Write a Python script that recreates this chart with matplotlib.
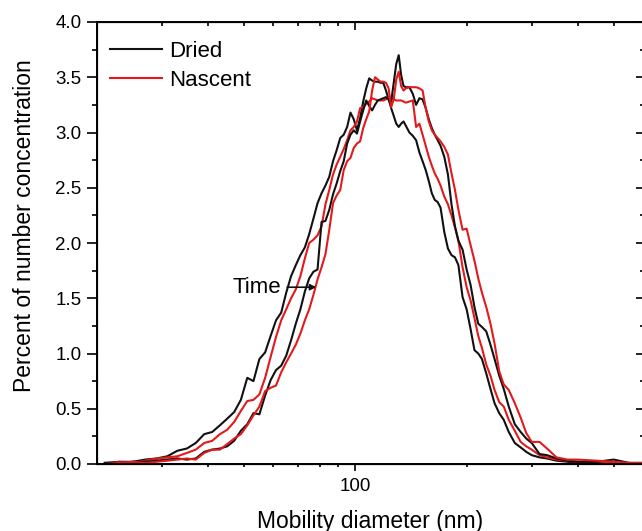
import matplotlib
matplotlib.use('Agg')
import matplotlib.pyplot as plt
from matplotlib.ticker import FixedLocator, NullFormatter

plt.rcParams['font.family'] = ['Liberation Sans', 'DejaVu Sans']

# SMPS size channels (nm)
diameter_nm = [21, 23, 25, 27, 29, 31, 33, 35, 37, 39, 41, 43, 45, 47, 49, 51, 53, 55, 57, 59,
               61, 63, 65, 67, 69, 71, 73, 75, 77, 79, 81, 83, 85, 87, 89, 91, 93, 95, 97, 99,
               101, 103, 105, 107, 109, 111, 113, 115, 117, 119, 121, 123, 125, 127, 129, 131,
               133, 135, 137, 140, 143, 146, 149, 152, 155, 158, 161, 164, 167, 170, 174, 178,
               182, 186, 190, 195, 200, 205, 210, 215, 220, 226, 232, 238, 245, 252, 260, 270,
               280, 290, 300, 315, 330, 350, 375, 400, 450, 500, 550, 600]

# percent of number concentration, dried particles (two scans)
dried_1 = [0.01, 0.02, 0.02, 0.04, 0.05, 0.07, 0.12, 0.14, 0.19, 0.27, 0.29, 0.35, 0.41, 0.47, 0.58, 0.78, 0.75, 0.95, 1.01, 1.16,
           1.30, 1.37, 1.55, 1.70, 1.80, 1.89, 1.96, 2.08, 2.22, 2.36, 2.45, 2.52, 2.60, 2.74, 2.84, 2.95, 2.98, 3.05, 3.18, 3.12,
           3.02, 3.13, 3.28, 3.40, 3.49, 3.47, 3.46, 3.46, 3.45, 3.45, 3.38, 3.30, 3.22, 3.15, 3.08, 3.05,
           3.08, 3.10, 3.06, 3.00, 2.97, 2.93, 2.82, 2.74, 2.66, 2.56, 2.45, 2.39, 2.37, 2.32, 2.10, 1.95,
           1.89, 1.87, 1.80, 1.51, 1.40, 1.22, 1.03, 1.00, 0.95, 0.82, 0.68, 0.55, 0.46, 0.40, 0.29, 0.19,
           0.15, 0.11, 0.08, 0.06, 0.05, 0.03, 0.02, 0.01, 0.01, 0.01, 0.00, 0.00]
dried_2 = [0.01, 0.01, 0.02, 0.02, 0.03, 0.04, 0.05, 0.04, 0.05, 0.11, 0.13, 0.14, 0.16, 0.21, 0.30, 0.36, 0.46, 0.45, 0.62, 0.76,
           0.85, 0.89, 0.98, 1.12, 1.27, 1.40, 1.56, 1.68, 1.74, 1.76, 2.19, 2.20, 2.30, 2.44, 2.54, 2.65, 2.74, 2.90, 2.98, 3.02,
           2.99, 3.10, 3.20, 3.29, 3.24, 3.20, 3.25, 3.29, 3.30, 3.31, 3.32, 3.30, 3.28, 3.45, 3.62, 3.70,
           3.52, 3.42, 3.41, 3.41, 3.35, 3.25, 3.31, 3.30, 3.22, 3.12, 3.04, 2.98, 2.93, 2.88, 2.78, 2.62,
           2.35, 2.15, 2.02, 1.94, 1.76, 1.62, 1.42, 1.27, 1.24, 1.20, 1.08, 0.95, 0.80, 0.68, 0.52, 0.36,
           0.29, 0.23, 0.19, 0.09, 0.08, 0.05, 0.03, 0.02, 0.02, 0.04, 0.01, 0.01]

# nascent particles (two scans)
nascent_1 = [0.00, 0.02, 0.01, 0.03, 0.05, 0.06, 0.07, 0.10, 0.13, 0.19, 0.21, 0.27, 0.31, 0.38, 0.48, 0.57, 0.58, 0.63, 0.78, 0.97,
             1.15, 1.30, 1.40, 1.50, 1.58, 1.70, 1.86, 2.00, 2.03, 2.07, 2.15, 2.35, 2.48, 2.62, 2.71, 2.78, 2.85, 2.93, 3.02, 3.05,
             3.10, 3.22, 3.23, 3.26, 3.28, 3.31, 3.30, 3.29, 3.29, 3.29, 3.30, 3.32, 3.31, 3.30, 3.29, 3.29,
             3.29, 3.28, 3.27, 3.28, 3.29, 3.05, 3.08, 2.98, 2.88, 2.78, 2.70, 2.63, 2.58, 2.52, 2.42, 2.35,
             2.25, 2.14, 2.02, 1.78, 1.60, 1.48, 1.32, 1.16, 1.05, 0.90, 0.80, 0.67, 0.56, 0.52, 0.40, 0.30,
             0.20, 0.16, 0.13, 0.08, 0.06, 0.04, 0.03, 0.02, 0.02, 0.01, 0.01, 0.00]
nascent_2 = [0.00, 0.01, 0.02, 0.01, 0.02, 0.03, 0.04, 0.05, 0.04, 0.10, 0.13, 0.13, 0.18, 0.23, 0.27, 0.35, 0.44, 0.52, 0.66, 0.69,
             0.71, 0.83, 0.92, 1.00, 1.08, 1.18, 1.30, 1.40, 1.53, 1.67, 1.78, 1.90, 2.12, 2.36, 2.43, 2.48, 2.66, 2.74, 2.77, 2.86,
             2.90, 2.92, 3.04, 3.12, 3.19, 3.38, 3.50, 3.48, 3.46, 3.46, 3.45, 3.40, 3.23, 3.30, 3.48, 3.55,
             3.42, 3.38, 3.40, 3.41, 3.41, 3.41, 3.40, 3.38, 3.22, 3.10, 3.02, 2.98, 2.95, 2.92, 2.87, 2.80,
             2.63, 2.48, 2.30, 2.12, 2.13, 1.98, 1.84, 1.68, 1.55, 1.42, 1.27, 1.09, 0.84, 0.72, 0.67, 0.55,
             0.42, 0.28, 0.20, 0.20, 0.14, 0.06, 0.04, 0.04, 0.03, 0.02, 0.01, 0.01]

x_major = [100]
x_minor = [30, 40, 50, 60, 70, 80, 90, 200, 300, 400, 500]
y_major = [0.0, 0.5, 1.0, 1.5, 2.0, 2.5, 3.0, 3.5, 4.0]
y_minor = [0.25, 0.75, 1.25, 1.75, 2.25, 2.75, 3.25, 3.75]

black = '#111111'
red = '#e3191c'

fig = plt.figure(figsize=(6.42, 5.31), dpi=100)
ax = fig.add_axes([97 / 642, 67 / 531, 546 / 642, 442 / 531])

ax.plot(diameter_nm, dried_1, color=black, lw=1.5, label='Dried')
ax.plot(diameter_nm, nascent_1, color=red, lw=1.5, label='Nascent')
ax.plot(diameter_nm, dried_2, color=black, lw=1.5)
ax.plot(diameter_nm, nascent_2, color=red, lw=1.5)

ax.set_xscale('log')
ax.set_xlim(20, 600)
ax.set_ylim(0, 4.0)

ax.xaxis.set_major_locator(FixedLocator(x_major))
ax.xaxis.set_minor_locator(FixedLocator(x_minor))
ax.xaxis.set_minor_formatter(NullFormatter())
ax.set_xticklabels(['100'])
ax.yaxis.set_major_locator(FixedLocator(y_major))
ax.yaxis.set_minor_locator(FixedLocator(y_minor))
ax.set_yticklabels(['%.1f' % v for v in y_major])

ax.tick_params(axis='y', which='major', direction='out', length=7.2, width=1.2, pad=4, labelsize=13.5)
ax.tick_params(axis='y', which='minor', direction='out', length=3.6, width=1.2)
ax.tick_params(axis='x', which='major', direction='out', length=5, width=1.2, pad=5, labelsize=13.5)
ax.tick_params(axis='x', which='minor', direction='out', length=2.5, width=1.2)
for s in ax.spines.values():
    s.set_linewidth(1.4)

# mirrored ticks on top and right, pointing inward
axt = ax.twiny()
axt.set_xscale('log')
axt.set_xlim(ax.get_xlim())
axt.xaxis.set_major_locator(FixedLocator(x_major))
axt.xaxis.set_minor_locator(FixedLocator(x_minor))
axt.tick_params(axis='x', which='major', direction='in', length=6, width=1.2, labeltop=False)
axt.tick_params(axis='x', which='minor', direction='in', length=3, width=1.2, labeltop=False)
axt.xaxis.set_minor_formatter(NullFormatter())

axr = ax.twinx()
axr.set_ylim(ax.get_ylim())
axr.yaxis.set_major_locator(FixedLocator(y_major))
axr.yaxis.set_minor_locator(FixedLocator(y_minor))
axr.tick_params(axis='y', which='major', direction='in', length=5, width=1.2, labelright=False)
axr.tick_params(axis='y', which='minor', direction='in', length=2.5, width=1.2, labelright=False)

ax.set_xlabel('Mobility diameter (nm)', fontsize=16.5)
ax.set_ylabel('Percent of number concentration', fontsize=16.5)
ax.xaxis.set_label_coords(0.5, -0.103)
ax.yaxis.set_label_coords(-0.112, 0.54)

ax.annotate('', xy=(78.4, 1.60), xytext=(65.4, 1.60),
            arrowprops=dict(arrowstyle='-|>', color=black, lw=1.2, mutation_scale=9,
                            shrinkA=0, shrinkB=0))
ax.text(63.0, 1.60, 'Time', fontsize=16, ha='right', va='center')

leg = ax.legend(loc='upper left', bbox_to_anchor=(0.024, 0.958), frameon=False, fontsize=16,
                handlelength=2.35, handletextpad=0.3, labelspacing=0.36,
                borderpad=0, borderaxespad=0)
leg.set_zorder(10)

fig.savefig('out.png', dpi=100)
